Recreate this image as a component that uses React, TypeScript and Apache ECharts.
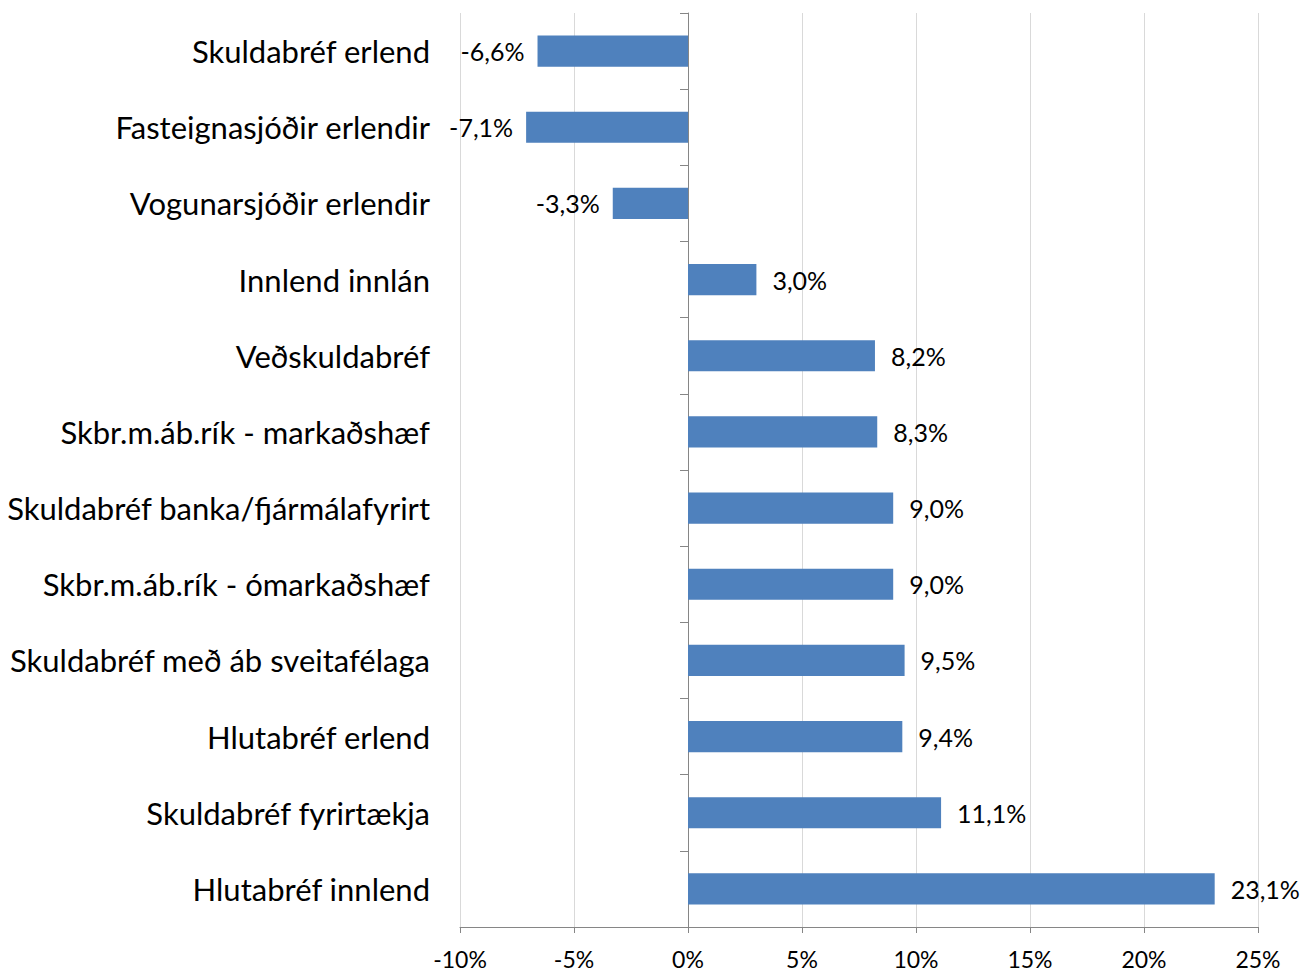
import React, { useEffect, useRef } from "react";
import * as echarts from "echarts";

const categories = [
  "Skuldabréf erlend",
  "Fasteignasjóðir erlendir",
  "Vogunarsjóðir erlendir",
  "Innlend innlán",
  "Veðskuldabréf",
  "Skbr.m.áb.rík - markaðshæf",
  "Skuldabréf banka/fjármálafyrirt",
  "Skbr.m.áb.rík - ómarkaðshæf",
  "Skuldabréf með áb sveitafélaga",
  "Hlutabréf erlend",
  "Skuldabréf fyrirtækja",
  "Hlutabréf innlend",
];

const values = [-6.6, -7.1, -3.3, 3.0, 8.2, 8.3, 9.0, 9.0, 9.5, 9.4, 11.1, 23.1];

const xMin = -10;
const xMax = 25;
const xInterval = 5;

const FONT = "Lato";

export default function App() {
  const ref = useRef<HTMLDivElement>(null);

  useEffect(() => {
    if (!ref.current) return;
    const chart = echarts.init(ref.current, undefined, { renderer: "svg" });
    const fmt = (v: number) => v.toFixed(1).replace(".", ",") + "%";
    chart.setOption({
      animation: false,
      backgroundColor: "#ffffff",
      textStyle: { fontFamily: FONT },
      grid: { left: 460, right: 44, top: 13, bottom: 47, containLabel: false },
      xAxis: {
        type: "value",
        min: xMin,
        max: xMax,
        interval: xInterval,
        axisLine: { show: true, onZero: false, lineStyle: { color: "#868686", width: 1 } },
        axisTick: { show: true, length: 6, lineStyle: { color: "#868686" } },
        axisLabel: {
          formatter: (v: number) => `${v}%`,
          color: "#000",
          fontSize: 23,
          lineHeight: 23,
          fontFamily: FONT,
          margin: 20,
        },
        splitLine: { show: true, lineStyle: { color: "#d9d9d9", width: 1 } },
      },
      yAxis: [
        {
          type: "category",
          data: categories,
          inverse: true,
          position: "left",
          axisLine: { show: false, onZero: false },
          axisTick: { show: false },
          axisLabel: { color: "#000", fontSize: 31, fontFamily: FONT, margin: 30 },
          splitLine: { show: false },
        },
        {
          type: "category",
          data: categories,
          inverse: true,
          position: "right",
          axisLine: { show: true, onZero: true, lineStyle: { color: "#868686", width: 1 } },
          axisTick: { show: true, inside: true, length: 8, lineStyle: { color: "#868686" } },
          axisLabel: { show: false },
          splitLine: { show: false },
        },
      ],
      series: [
        {
          type: "bar",
          yAxisIndex: 0,
          barWidth: "41%",
          itemStyle: { color: "#4f81bd" },
          data: values.map((v) => ({
            value: v,
            label: {
              show: true,
              position: v < 0 ? "left" : "right",
              distance: v < 0 ? 13 : 16,
              formatter: () => fmt(v),
              color: "#000",
              fontSize: 25,
              fontFamily: FONT,
            },
          })),
        },
      ],
    });
    return () => chart.dispose();
  }, []);

  return (
    <div
      ref={ref}
      style={{ position: "fixed", left: 0, top: 0, width: 1302, height: 974, background: "#fff" }}
    />
  );
}
